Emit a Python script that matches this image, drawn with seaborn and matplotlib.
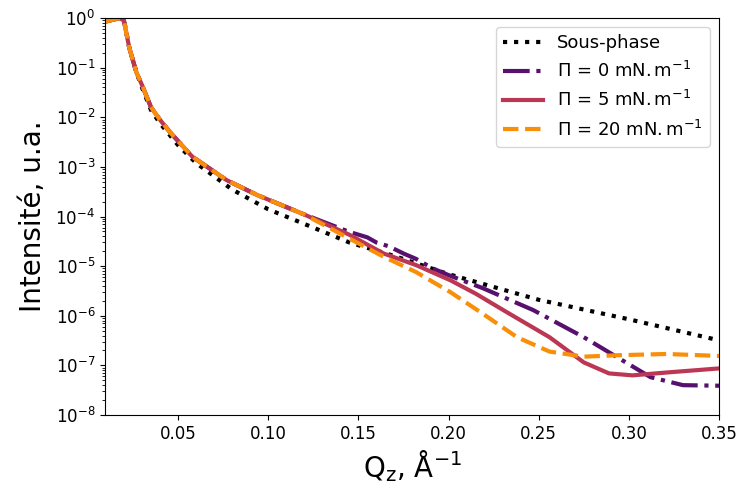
import numpy as np
import pandas as pd
import matplotlib
matplotlib.use("Agg")
import matplotlib.pyplot as plt
import seaborn as sns

# --- data ---
q_sub = [0.010, 0.018, 0.020, 0.023, 0.027, 0.030, 0.035, 0.040, 0.050, 0.060,
         0.080, 0.100, 0.120, 0.145, 0.170, 0.200, 0.250, 0.300, 0.350]
r_sub = [9.3e-1, 1.0, 9.5e-1, 2.5e-1, 7.9e-2, 4.0e-2, 1.4e-2, 7.6e-3, 2.75e-3, 1.2e-3,
         3.5e-4, 1.4e-4, 7.1e-5, 3.0e-5, 1.6e-5, 6.9e-6, 2.1e-6, 8.5e-7, 3.2e-7]

q_low = [0.010, 0.018, 0.020, 0.023, 0.027, 0.030, 0.035, 0.040, 0.046, 0.058,
         0.077, 0.094, 0.120]
r_low = [8.5e-1, 1.0, 8.9e-1, 2.5e-1, 7.9e-2, 4.5e-2, 1.6e-2, 8.9e-3, 4.8e-3, 1.6e-3,
         5.4e-4, 2.7e-4, 1.1e-4]

q_p0 = [0.145, 0.155, 0.160, 0.167, 0.175, 0.182, 0.191, 0.200, 0.219, 0.247,
        0.275, 0.293, 0.312, 0.330, 0.350]
r_p0 = [4.9e-5, 3.8e-5, 3.0e-5, 2.5e-5, 1.8e-5, 1.4e-5, 9.1e-6, 6.6e-6, 3.6e-6, 1.3e-6,
        3.7e-7, 1.5e-7, 5.8e-8, 4.0e-8, 3.9e-8]

q_p5 = [0.145, 0.164, 0.182, 0.201, 0.215, 0.232, 0.256, 0.275, 0.289, 0.302,
        0.321, 0.350]
r_p5 = [4.3e-5, 1.8e-5, 1.05e-5, 5.2e-6, 2.8e-6, 1.2e-6, 3.7e-7, 1.15e-7, 6.9e-8, 6.3e-8,
        7.2e-8, 8.7e-8]

q_p20 = [0.145, 0.164, 0.182, 0.201, 0.219, 0.238, 0.256, 0.275, 0.293, 0.321, 0.350]
r_p20 = [3.6e-5, 1.55e-5, 7.6e-6, 3.0e-6, 1.1e-6, 3.7e-7, 1.9e-7, 1.5e-7, 1.6e-7,
         1.7e-7, 1.55e-7]

labels = ["Sous-phase",
          r"$\Pi$ = 0 mN.$\,$m$^{-1}$",
          r"$\Pi$ = 5 mN.$\,$m$^{-1}$",
          r"$\Pi$ = 20 mN.$\,$m$^{-1}$"]
colors = ["black", "#57106e", "#bc3754", "#f98e09"]
styles = [":", "-.", "-", "--"]

series = [
    (q_sub, r_sub),
    (q_low + q_p0, r_low + r_p0),
    (q_low + q_p5, r_low + r_p5),
    (q_low + q_p20, r_low + r_p20),
]

fig = plt.figure(figsize=(7.39, 4.86), dpi=100)
ax = fig.add_axes([0.142, 0.146, 0.831, 0.817])

for (q, r), lab, c, ls in zip(series, labels, colors, styles):
    df = pd.DataFrame({"q": q, "r": r})
    sns.lineplot(data=df, x="q", y="r", ax=ax, color=c, linestyle=ls, lw=3,
                 label=lab, sort=False, estimator=None)

ax.set_yscale("log")
ax.set_xlim(0.0095, 0.35)
ax.set_ylim(1e-8, 1.0)
ax.set_yticks([10.0 ** k for k in range(-8, 1)])
ax.set_xticks([0.05, 0.10, 0.15, 0.20, 0.25, 0.30, 0.35])
ax.set_xticklabels(["0.05", "0.10", "0.15", "0.20", "0.25", "0.30", "0.35"])
ax.tick_params(axis="both", labelsize=12)
ax.set_xlabel(r"Q$_{\mathrm{z}}$, Å$^{-1}$", fontsize=20)
ax.set_ylabel("Intensité, u.a.", fontsize=20, labelpad=6)
leg = ax.legend(loc="upper right", fontsize=13, handlelength=2.2)

fig.savefig("out.png", dpi=100)
